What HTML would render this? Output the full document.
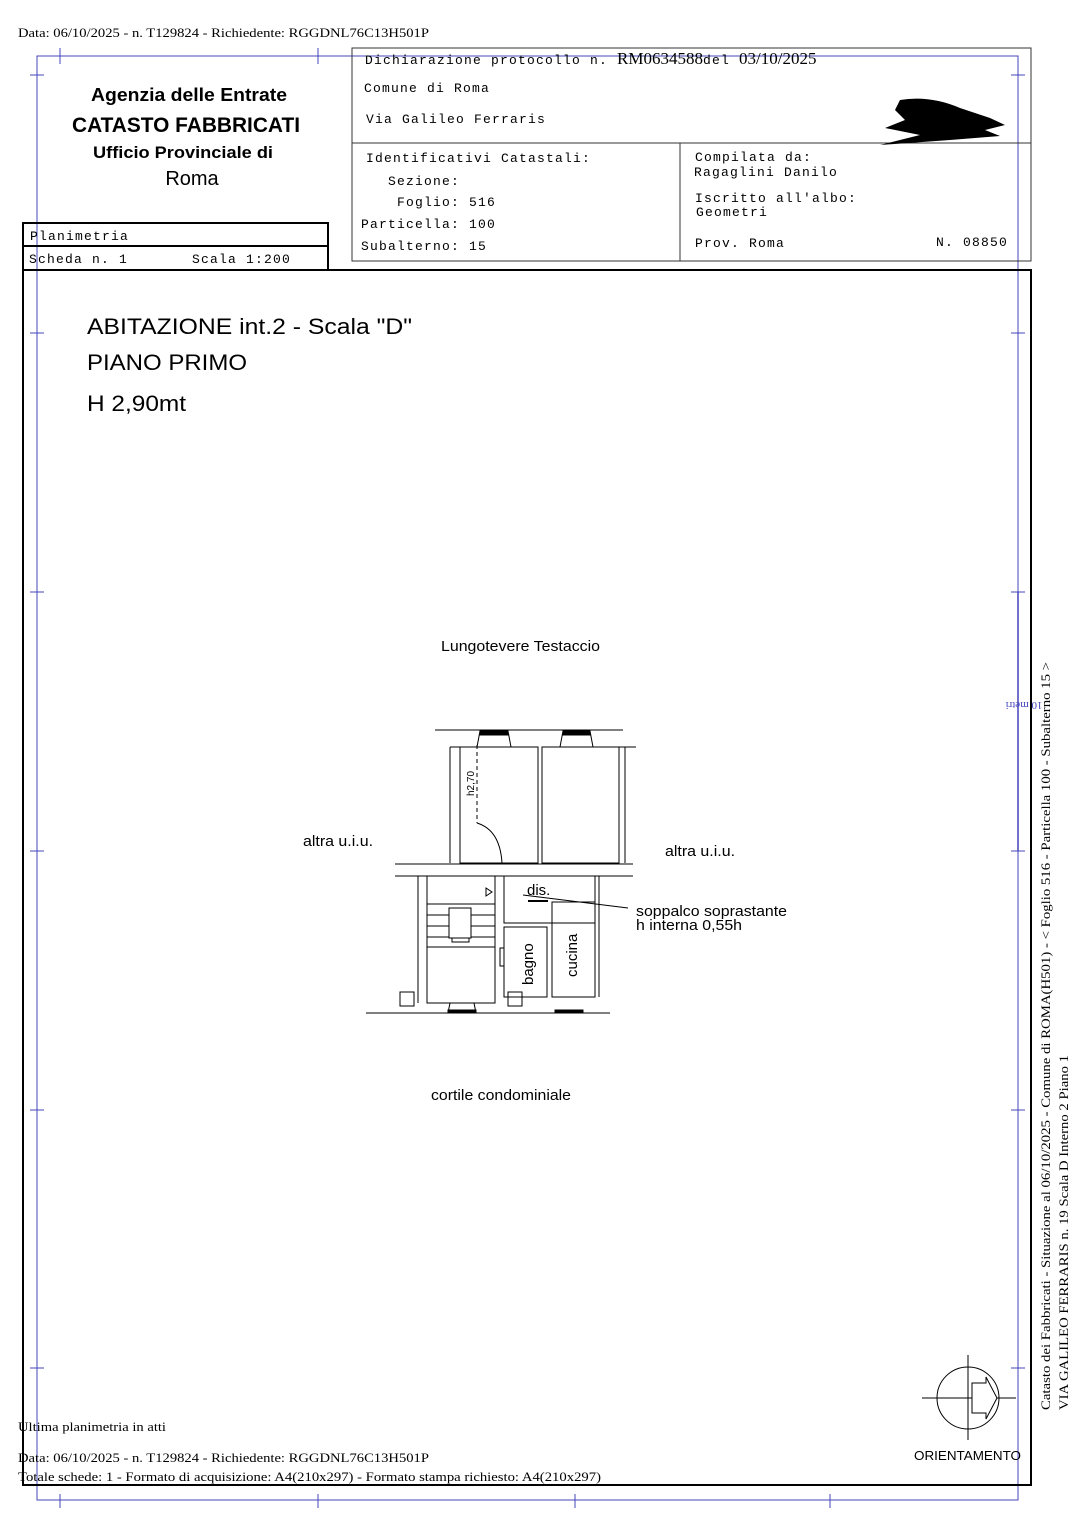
<!DOCTYPE html>
<html><head><meta charset="utf-8"><style>
html,body{margin:0;padding:0;background:#fff;}
svg{display:block;}
.m{font-family:"Liberation Mono",monospace;font-size:13px;letter-spacing:1.2px;}
.s{font-family:"Liberation Sans",sans-serif;}
.r{font-family:"Liberation Serif",serif;font-size:13px;}
</style></head><body>
<svg width="1086" height="1536" viewBox="0 0 1086 1536" xmlns="http://www.w3.org/2000/svg">
<rect width="1086" height="1536" fill="#fff"/>
<text x="18" y="37" class="r" textLength="411" lengthAdjust="spacingAndGlyphs">Data: 06/10/2025 - n. T129824 - Richiedente: RGGDNL76C13H501P</text>
<g stroke="#4444bb" stroke-width="1" fill="none">
<rect x="37" y="56" width="981" height="1444"/>
<line x1="60" y1="48" x2="60" y2="64"/><line x1="318" y1="48" x2="318" y2="64"/>
<line x1="60" y1="1494" x2="60" y2="1508"/><line x1="318" y1="1494" x2="318" y2="1508"/>
<line x1="575" y1="1494" x2="575" y2="1508"/><line x1="830" y1="1494" x2="830" y2="1508"/>
<line x1="30" y1="75" x2="44" y2="75"/><line x1="30" y1="333" x2="44" y2="333"/><line x1="30" y1="592" x2="44" y2="592"/><line x1="30" y1="851" x2="44" y2="851"/><line x1="30" y1="1110" x2="44" y2="1110"/><line x1="30" y1="1368" x2="44" y2="1368"/>
<line x1="1011" y1="75" x2="1025" y2="75"/><line x1="1011" y1="333" x2="1025" y2="333"/><line x1="1011" y1="592" x2="1025" y2="592"/><line x1="1011" y1="851" x2="1025" y2="851"/><line x1="1011" y1="1110" x2="1025" y2="1110"/><line x1="1011" y1="1368" x2="1025" y2="1368"/>
<line x1="1018" y1="592" x2="1018" y2="851" stroke-width="1.5"/>
</g>
<text transform="translate(1024,702) rotate(180)" font-family="Liberation Serif" font-size="11" fill="#4444bb" text-anchor="middle">10 metri</text>
<g stroke="#333" fill="none">
<rect x="352" y="48" width="679" height="213"/>
<line x1="352" y1="143" x2="1031" y2="143"/>
<line x1="680" y1="143" x2="680" y2="261"/>
<rect x="23" y="223" width="305" height="47" stroke-width="2" stroke="#000"/>
<line x1="23" y1="246" x2="328" y2="246" stroke-width="2" stroke="#000"/>
<rect x="23" y="270" width="1008" height="1215" stroke-width="2" stroke="#000"/>
</g>
<g class="s" font-weight="bold" text-anchor="middle">
<text x="189" y="101" font-size="18" textLength="196" lengthAdjust="spacingAndGlyphs">Agenzia delle Entrate</text>
<text x="186" y="132" font-size="21" textLength="228" lengthAdjust="spacingAndGlyphs">CATASTO FABBRICATI</text>
<text x="183" y="158" font-size="17" textLength="180" lengthAdjust="spacingAndGlyphs">Ufficio Provinciale di</text>
<text x="192" y="185" font-size="20" font-weight="normal">Roma</text>
</g>
<g class="m">
<text x="365" y="64">Dichiarazione protocollo n. <tspan font-family="Liberation Serif" font-size="17" letter-spacing="0">RM0634588</tspan>del  <tspan font-family="Liberation Serif" font-size="17" letter-spacing="0">03/10/2025</tspan></text>
<text x="364" y="92">Comune di Roma</text>
<text x="366" y="123">Via Galileo Ferraris</text>
<text x="366" y="162">Identificativi Catastali:</text>
<text x="388" y="185">Sezione:</text>
<text x="397" y="206">Foglio: 516</text>
<text x="361" y="228">Particella: 100</text>
<text x="361" y="250">Subalterno: 15</text>
<text x="695" y="161">Compilata da:</text>
<text x="694" y="176">Ragaglini Danilo</text>
<text x="695" y="202">Iscritto all'albo:</text>
<text x="696" y="216">Geometri</text>
<text x="695" y="247">Prov. Roma</text>
<text x="936" y="246">N. 08850</text>
<text x="30" y="240">Planimetria</text>
<text x="29" y="263">Scheda n. 1</text>
<text x="192" y="263">Scala 1:200</text>
</g>
<path d="M900 100 Q930 95 960 108 L990 118 L1005 125 L985 130 L1000 136 L950 140 L880 145 L920 135 L885 128 L905 120 L895 110 Z" fill="#000"/>
<g class="s" font-size="22">
<text x="87" y="334" textLength="325" lengthAdjust="spacingAndGlyphs">ABITAZIONE  int.2 - Scala "D"</text>
<text x="87" y="370" textLength="160" lengthAdjust="spacingAndGlyphs">PIANO PRIMO</text>
<text x="87" y="411" textLength="99" lengthAdjust="spacingAndGlyphs">H 2,90mt</text>
</g>
<g class="s" font-size="15">
<text x="441" y="651" textLength="159" lengthAdjust="spacingAndGlyphs">Lungotevere Testaccio</text>
<text x="303" y="846" textLength="70" lengthAdjust="spacingAndGlyphs">altra u.i.u.</text>
<text x="665" y="856" textLength="70" lengthAdjust="spacingAndGlyphs">altra u.i.u.</text>
<text x="636" y="916" textLength="151" lengthAdjust="spacingAndGlyphs">soppalco soprastante</text>
<text x="636" y="930" textLength="106" lengthAdjust="spacingAndGlyphs">h interna 0,55h</text>
<text x="527" y="895">dis.</text>
<text x="431" y="1100" textLength="140" lengthAdjust="spacingAndGlyphs">cortile condominiale</text>
<text x="914" y="1460" font-size="13" textLength="107" lengthAdjust="spacingAndGlyphs">ORIENTAMENTO</text>
</g>
<text transform="translate(533,985) rotate(-90)" class="s" font-size="15">bagno</text>
<text transform="translate(577,977) rotate(-90)" class="s" font-size="15">cucina</text>
<text transform="translate(474,796) rotate(-90)" class="s" font-size="10">h2,70</text>
<g stroke="#000" fill="none" stroke-width="1">
<line x1="435" y1="730" x2="623" y2="730"/>
<path d="M480 731 L508 731 L511 747 M477 747 L480 731 M563 731 L590 731 L593 747 M560 747 L563 731"/>
<rect x="480" y="731" width="28" height="4" fill="#000"/><rect x="563" y="731" width="27" height="4" fill="#000"/>
<rect x="460" y="747" width="78" height="116"/>
<rect x="542" y="747" width="77" height="116"/>
<line x1="450" y1="747" x2="450" y2="863"/><line x1="625" y1="747" x2="625" y2="863"/>
<line x1="450" y1="747" x2="460" y2="747"/><line x1="619" y1="747" x2="636" y2="747"/>
<line x1="395" y1="864" x2="633" y2="864"/>
<line x1="395" y1="876" x2="633" y2="876"/>
<path d="M477 745 L477 823" stroke-dasharray="4,3"/>
<path d="M477 823 Q500 830 502 863"/>
<rect x="427" y="876" width="68" height="127"/>
<line x1="427" y1="904" x2="495" y2="904"/>
<line x1="427" y1="947" x2="495" y2="947"/>
<path d="M427 915 H495 M427 926 H495 M427 937 H495"/>
<rect x="449" y="908" width="22" height="30" fill="#fff"/>
<rect x="452" y="938" width="17" height="4" fill="#fff"/>
<path d="M486 888 L492 892 L486 896 Z"/>
<rect x="504" y="876" width="91" height="47"/>
<line x1="528" y1="901" x2="548" y2="901" stroke-width="2"/>
<rect x="504" y="927" width="43" height="70"/>
<rect x="552" y="902" width="43" height="95"/>
<line x1="599" y1="876" x2="599" y2="997"/>
<line x1="418" y1="876" x2="418" y2="1003"/>
<line x1="523" y1="895" x2="628" y2="908"/>
<line x1="366" y1="1013" x2="610" y2="1013"/>
<path d="M450 1003 L448 1013 M476 1013 L474 1003"/>
<rect x="448" y="1010" width="28" height="3" fill="#000"/>
<rect x="555" y="1010" width="28" height="3" fill="#000"/>
<rect x="400" y="992" width="14" height="14"/><rect x="508" y="992" width="14" height="14"/>
<rect x="500" y="948" width="4" height="18"/>
</g>
<g stroke="#000" fill="none">
<circle cx="968" cy="1398" r="31"/>
<line x1="922" y1="1398" x2="1016" y2="1398"/>
<line x1="968" y1="1355" x2="968" y2="1440"/>
<path d="M972 1383 L986 1383 L986 1377 L997 1398 L986 1419 L986 1413 L972 1413 Z" fill="#fff"/>
</g>
<text transform="translate(1050,1410) rotate(-90)" class="r" font-size="13" textLength="748" lengthAdjust="spacingAndGlyphs">Catasto dei Fabbricati - Situazione al 06/10/2025 - Comune di ROMA(H501) - &lt; Foglio 516 - Particella  100 - Subalterno 15 &gt;</text>
<text transform="translate(1068,1410) rotate(-90)" class="r" font-size="13" textLength="355" lengthAdjust="spacingAndGlyphs">VIA GALILEO FERRARIS n. 19  Scala D Interno 2 Piano 1</text>
<g class="r">
<text x="18" y="1431" textLength="148" lengthAdjust="spacingAndGlyphs">Ultima planimetria in atti</text>
<text x="18" y="1462" textLength="411" lengthAdjust="spacingAndGlyphs">Data: 06/10/2025 - n. T129824 - Richiedente: RGGDNL76C13H501P</text>
<text x="18" y="1481" textLength="583" lengthAdjust="spacingAndGlyphs">Totale schede: 1 - Formato di acquisizione: A4(210x297)  - Formato stampa richiesto: A4(210x297)</text>
</g>
</svg>
</body></html>
